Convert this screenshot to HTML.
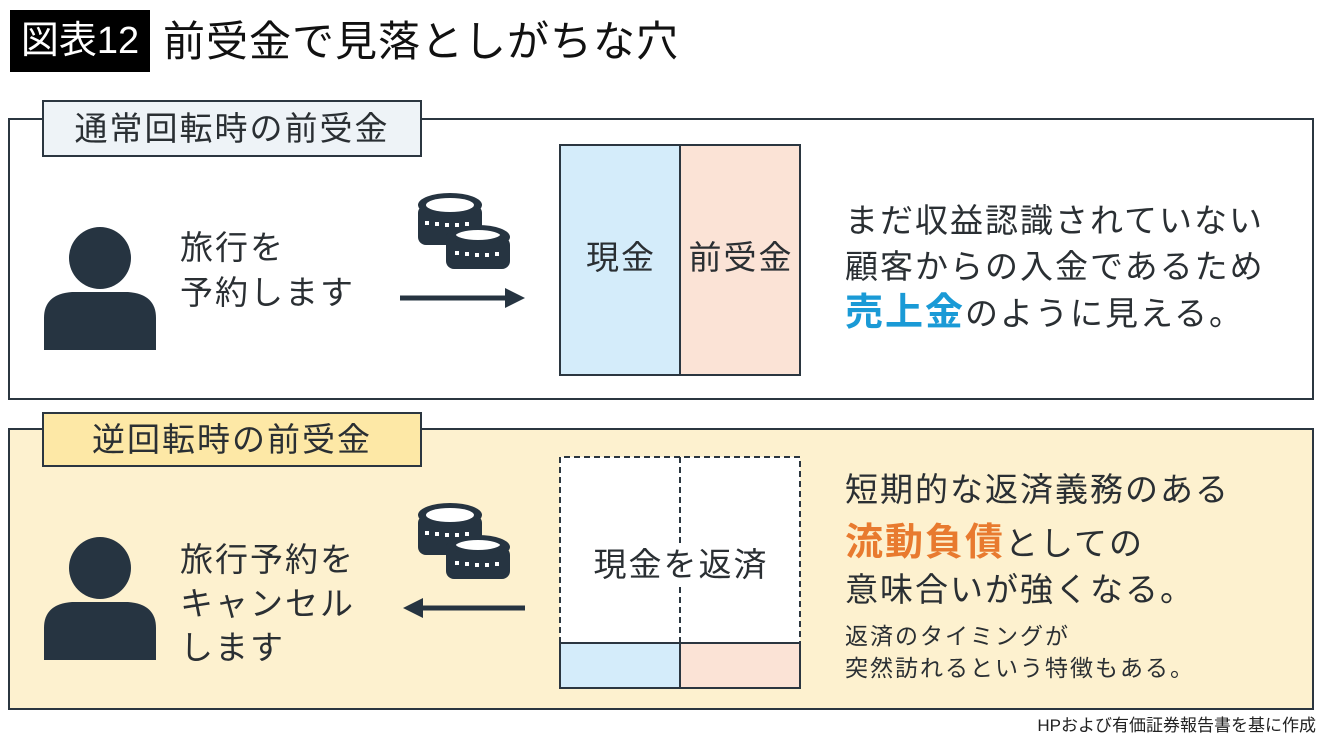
<!DOCTYPE html>
<html><head><meta charset="utf-8"><style>
body{margin:0;width:1340px;height:743px;background:#fff;position:relative;overflow:hidden;font-family:"Liberation Sans","Noto Sans CJK JP",sans-serif;color:#2a2f33}
.a{position:absolute;white-space:nowrap}
.s{letter-spacing:2px;font-size:33px!important}
</style></head><body>
<div class="a" style="left:10px;top:10px;width:140px;height:62px;background:#000;color:#fff;font-size:38px;line-height:62px;text-align:center">図表12</div>
<div class="a" style="left:163px;top:12px;font-size:42px;line-height:60px;color:#111;letter-spacing:1px">前受金で見落としがちな穴</div>

<div class="a" style="left:8px;top:118px;width:1302px;height:278px;border:2px solid #2b3640"></div>
<div class="a s" style="left:42px;top:100px;width:376px;height:53px;background:#eef3f7;border:2px solid #2b3640;font-size:30px;line-height:53px;text-align:center">通常回転時の前受金</div>

<div class="a" style="left:8px;top:428px;width:1302px;height:278px;border:2px solid #2b3640;background:#fdf1cf"></div>
<div class="a s" style="left:42px;top:412px;width:376px;height:51px;background:#fde8a6;border:2px solid #2b3640;font-size:30px;line-height:51px;text-align:center">逆回転時の前受金</div>

<svg class="a" style="left:0;top:0" width="1340" height="743">
<defs>
<g id="p"><circle cx="100" cy="0" r="31" fill="#263441"/><path d="M44 92 V60 Q44 36 72 34 H128 Q156 36 156 60 V92 Z" fill="#263441"/></g>
<g id="c" fill="#263441">
<ellipse cx="450" cy="0" rx="32" ry="12"/><rect x="418" y="0" width="64" height="40" rx="8"/>
<ellipse cx="478" cy="32" rx="32" ry="12"/><rect x="446" y="32" width="64" height="32" rx="8"/>
<ellipse cx="450" cy="0" rx="24" ry="7" fill="#fff"/><ellipse cx="478" cy="30" rx="24" ry="7" fill="#fff" stroke="#263441" stroke-width="4"/>
<g fill="#fff"><rect x="425" y="16" width="4" height="4"/><rect x="435" y="17" width="4" height="4"/><rect x="445" y="18" width="4" height="4"/><rect x="455" y="18" width="4" height="4"/><rect x="465" y="17" width="4" height="4"/>
<rect x="455" y="46" width="4" height="4"/><rect x="465" y="47" width="4" height="4"/><rect x="475" y="48" width="4" height="4"/><rect x="485" y="48" width="4" height="4"/><rect x="495" y="47" width="4" height="4"/></g>
</g>
</defs>
<use href="#p" y="258"/><use href="#p" y="568"/>
<use href="#c" y="205"/><use href="#c" y="515"/>
<line x1="400" y1="298" x2="510" y2="298" stroke="#263441" stroke-width="5"/><polygon points="505,288 525,298 505,308" fill="#263441"/>
<line x1="420" y1="608" x2="525" y2="608" stroke="#263441" stroke-width="5"/><polygon points="423,598 403,608 423,618" fill="#263441"/>
<rect x="560" y="145" width="120" height="230" fill="#d4ecfa" stroke="#2b3640" stroke-width="2"/>
<rect x="680" y="145" width="120" height="230" fill="#fbe3d6" stroke="#2b3640" stroke-width="2"/>
<rect x="560" y="457" width="240" height="231" fill="#fff"/>
<rect x="560" y="643" width="120" height="45" fill="#d4ecfa" stroke="#2b3640" stroke-width="2"/>
<rect x="680" y="643" width="120" height="45" fill="#fbe3d6" stroke="#2b3640" stroke-width="2"/>
<path d="M560 643 V457 H800 V643 M680 457 V643" fill="none" stroke="#2b3640" stroke-width="2" stroke-dasharray="6,4"/>
</svg>

<div class="a s" style="left:180px;top:225px;line-height:45px">旅行を<br>予約します</div>
<div class="a s" style="left:560px;top:238px;width:120px;text-align:center;line-height:40px;text-indent:2px">現金</div>
<div class="a s" style="left:680px;top:238px;width:120px;text-align:center;line-height:40px;text-indent:2px">前受金</div>
<div class="a s" style="left:845px;top:198px;line-height:46px">まだ収益認識されていない<br>顧客からの入金であるため<br><span style="font-size:38px;font-weight:bold;color:#1a9ad6;letter-spacing:2px">売上金</span>のように見える。</div>

<div class="a s" style="left:180px;top:538px;line-height:44px">旅行予約を<br>キャンセル<br>します</div>
<div class="a s" style="left:588px;top:545px;width:184px;text-align:center;line-height:40px;background:#fff;text-indent:2px">現金を返済</div>
<div class="a s" style="left:845px;top:470px;line-height:40px">短期的な返済義務のある</div>
<div class="a s" style="left:845px;top:518px;line-height:50px"><span style="font-size:38px;font-weight:bold;color:#e87a2f;letter-spacing:2px">流動負債</span>としての</div>
<div class="a s" style="left:845px;top:570px;line-height:40px">意味合いが強くなる。</div>
<div class="a" style="left:845px;top:620px;font-size:23px;line-height:32px;letter-spacing:2px">返済のタイミングが<br>突然訪れるという特徴もある。</div>
<div class="a" style="right:24px;top:715px;font-size:17px;line-height:22px;color:#222">HPおよび有価証券報告書を基に作成</div>
</body></html>
